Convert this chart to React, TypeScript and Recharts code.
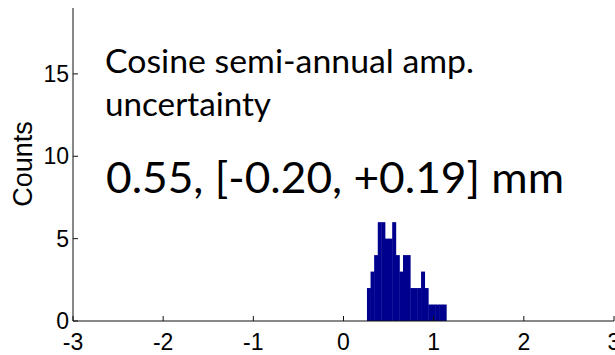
import React from 'react';
import { BarChart, Bar, XAxis, YAxis } from 'recharts';

// Histogram bins (bin centres, width 0.04) and counts
const binCenters = [0.28, 0.32, 0.36, 0.40, 0.44, 0.48, 0.52, 0.56, 0.60, 0.64, 0.68, 0.72, 0.76, 0.80, 0.84, 0.88, 0.92, 0.96, 1.00, 1.04, 1.08, 1.12];
const counts = [2, 3, 4, 6, 6, 5, 5, 6, 4, 3, 4, 4, 2, 2, 2, 3, 2, 1, 1, 1, 1, 1];
const xTicks = [-3, -2, -1, 0, 1, 2, 3];
const yTicks = [0, 5, 10, 15];
const xDomain = [-3, 3];
const yDomain = [0, 19];
const yLabel = 'Counts';
const titleLine1 = 'Cosine semi-annual amp.';
const titleLine2 = 'uncertainty';
const statText = '0.55, [-0.20, +0.19] mm';

const data = binCenters.map((x, i) => ({ x, count: counts[i] }));

const axisFont = { fill: '#000', fontSize: 23, fontFamily: 'Liberation Sans, Arial, sans-serif' };
const noLabel = () => '';

export default function App() {
  return (
    <div style={{ position: 'fixed', left: 0, top: 0, width: 615, height: 355, background: '#fff', overflow: 'hidden' }}>
      <BarChart
        width={615}
        height={355}
        data={data}
        margin={{ top: 8, right: 1, bottom: 0, left: 0 }}
        barCategoryGap={0}
        barGap={0}
      >
        <XAxis
          xAxisId="b"
          dataKey="x"
          type="number"
          domain={xDomain}
          ticks={xTicks}
          interval={0}
          height={34}
          tickSize={-5}
          tickMargin={18}
          stroke="#111"
          tick={axisFont}
          allowDataOverflow
        />
        <XAxis
          xAxisId="t"
          orientation="top"
          dataKey="x"
          type="number"
          domain={xDomain}
          ticks={xTicks}
          interval={0}
          height={0}
          tickSize={-5}
          tickFormatter={noLabel}
          stroke="#111"
          allowDataOverflow
        />
        <YAxis
          yAxisId="l"
          type="number"
          domain={yDomain}
          ticks={yTicks}
          interval={0}
          width={73}
          tickSize={-5}
          tickMargin={9}
          stroke="#111"
          tick={axisFont}
          allowDataOverflow
        />
        <YAxis
          yAxisId="r"
          orientation="right"
          type="number"
          domain={yDomain}
          ticks={yTicks}
          interval={0}
          width={0}
          tickSize={-5}
          tickFormatter={noLabel}
          stroke="#111"
          allowDataOverflow
        />
        <Bar
          xAxisId="b"
          yAxisId="l"
          dataKey="count"
          fill="#00008F"
          isAnimationActive={false}
        />
      </BarChart>
      <svg
        width={615}
        height={355}
        style={{ position: 'absolute', left: 0, top: 0, pointerEvents: 'none' }}
      >
        <text
          x={23}
          y={164}
          transform="rotate(-90, 23, 164)"
          textAnchor="middle"
          dominantBaseline="central"
          fontFamily="Liberation Sans, Arial, sans-serif"
          fontSize={27}
          fill="#000"
        >
          {yLabel}
        </text>
        <text x={105} y={73} fontFamily="Lato, sans-serif" fontSize={32} fill="#000" textLength={369} lengthAdjust="spacingAndGlyphs">
          {titleLine1}
        </text>
        <text x={105} y={116} fontFamily="Lato, sans-serif" fontSize={32} fill="#000" textLength={166} lengthAdjust="spacingAndGlyphs">
          {titleLine2}
        </text>
        <text x={106} y={193} fontFamily="Lato, sans-serif" fontSize={43} fill="#000" textLength={458} lengthAdjust="spacingAndGlyphs">
          {statText}
        </text>
      </svg>
    </div>
  );
}
